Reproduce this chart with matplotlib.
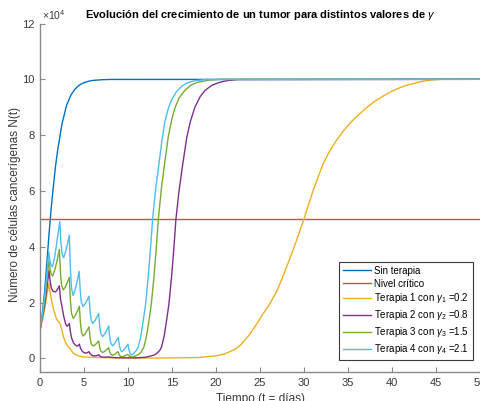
import matplotlib
matplotlib.use("Agg")
import matplotlib.pyplot as plt

plt.rcParams['font.family'] = ['Liberation Sans', 'DejaVu Sans']
plt.rcParams['mathtext.fontset'] = 'custom'
plt.rcParams['mathtext.rm'] = 'Liberation Sans'
plt.rcParams['mathtext.it'] = 'Liberation Sans:italic'

# ---- data (values in units of 1e4 cells) ----
t_sin = [0, 0.25, 0.5, 0.75, 1.0, 1.25, 1.5, 1.75, 2.0, 2.5, 3.0, 3.5, 4.0, 4.5, 5.0, 5.5, 6.0, 7.0, 8.0, 50]
n_sin = [1.0, 1.55, 2.3, 3.3, 4.35, 5.3, 6.1, 6.85, 7.45, 8.4, 9.05, 9.43, 9.66, 9.8, 9.88, 9.93, 9.96, 9.985, 9.995, 10.0]

t_crit = [0, 50]
n_crit = [5, 5]

t_t1 = [0, 0.5, 0.8, 1.02, 1.15, 1.33, 1.5, 1.7, 1.9, 2.1, 2.25, 2.45, 2.65, 2.85, 3.1, 3.3,
        3.45, 3.65, 3.85, 4.1, 4.5, 5.0, 5.6, 6.5, 8, 12, 15, 18, 19, 20, 21, 22.2, 22.8, 23.86,
        24.6, 25.38, 26.1, 26.9, 27.5, 28.03, 28.6, 29.17, 30.0, 30.5, 31.06, 31.6, 32.2, 32.9,
        33.7, 34.4, 35.2, 36.1, 37.1, 38.0, 39.0, 39.9, 40.9, 41.8, 42.8, 43.5, 44.3, 45.5, 50]
n_t1 = [1.0, 1.7, 2.3, 2.69, 2.35, 2.05, 1.8, 1.58, 1.4, 1.3, 1.27, 1.05, 0.8, 0.6, 0.45, 0.38,
        0.33, 0.24, 0.17, 0.12, 0.08, 0.05, 0.04, 0.03, 0.02, 0.01, 0.015, 0.03, 0.06, 0.09, 0.16, 0.33, 0.48, 0.87,
        1.22, 1.61, 1.95, 2.4, 2.85, 3.28, 3.75, 4.24, 5.0, 5.5, 6.03, 6.5, 6.99, 7.42,
        7.82, 8.12, 8.42, 8.7, 8.98, 9.2, 9.4, 9.56, 9.7, 9.8, 9.88, 9.93, 9.97, 10.0, 10.0]

t_t2 = [0, 0.5, 0.8, 1.02, 1.14, 1.3, 1.5, 1.75, 1.95, 2.2, 2.32, 2.5, 2.7, 2.9, 3.05, 3.2, 3.33,
        3.45, 3.6, 3.8, 4.0, 4.2, 4.35, 4.47, 4.59, 4.75, 4.95, 5.15, 5.35, 5.57,
        5.69, 5.85, 6.05, 6.3, 6.5, 6.67, 6.8, 7.0, 7.3, 7.8, 8.3, 9, 10, 11, 12, 13.0,
        13.35, 13.65, 13.82, 14.1, 14.39, 14.65, 14.95, 15.2, 15.45, 15.8, 16.17, 16.67,
        17.1, 17.6, 18.2, 18.75, 19.5, 20.3, 21.2, 22.5, 50]
n_t2 = [1.0, 1.85, 2.55, 3.16, 2.8, 2.5, 2.4, 2.38, 2.45, 2.6, 2.15, 1.85, 1.5, 1.25, 1.15, 1.18, 1.25,
        0.95, 0.72, 0.56, 0.48, 0.44, 0.46, 0.51, 0.38, 0.28, 0.21, 0.19, 0.2, 0.24,
        0.17, 0.12, 0.09, 0.09, 0.1, 0.13, 0.08, 0.05, 0.04, 0.05, 0.03, 0.02, 0.02, 0.02, 0.04, 0.12,
        0.2, 0.3, 0.42, 0.78, 1.37, 1.95, 2.92, 3.9, 5.0, 6.0, 6.85, 7.9,
        8.5, 9.0, 9.38, 9.6, 9.78, 9.88, 9.95, 9.99, 10.0]

t_t3 = [0, 0.5, 0.8, 1.02, 1.14, 1.27, 1.44, 1.7, 1.95, 2.2, 2.32, 2.45, 2.65, 2.88, 3.1, 3.33,
        3.45, 3.58, 3.79, 4.02, 4.25, 4.47, 4.59, 4.72, 4.92, 5.13, 5.35, 5.57,
        5.69, 5.82, 6.03, 6.25, 6.47, 6.67, 6.79, 6.92, 7.12, 7.35, 7.58, 7.8,
        7.92, 8.05, 8.26, 8.47, 8.68, 8.86, 8.98, 9.1, 9.3, 9.55, 9.78, 10.0,
        10.12, 10.45, 10.8, 11.1, 11.45, 11.8, 12.1, 12.39, 12.65, 12.95, 13.2, 13.45,
        13.8, 14.13, 14.58, 15.0, 15.34, 15.8, 16.5, 17.2, 18.0, 19.2, 20.5, 50]
n_t3 = [1.0, 2.0, 2.85, 3.52, 3.21, 3.02, 2.95, 3.19, 3.52, 3.9, 3.1, 2.62, 2.45, 2.56, 2.72, 2.9,
        2.09, 1.61, 1.43, 1.54, 1.69, 1.87, 1.28, 0.93, 0.8, 0.88, 1.0, 1.13,
        0.75, 0.52, 0.44, 0.485, 0.55, 0.62, 0.39, 0.26, 0.21, 0.25, 0.31, 0.38,
        0.23, 0.14, 0.11, 0.14, 0.19, 0.24, 0.14, 0.08, 0.06, 0.08, 0.11, 0.14,
        0.09, 0.05, 0.08, 0.12, 0.2, 0.4, 0.78, 1.37, 1.95, 2.92, 3.9, 5.0,
        6.1, 6.9, 7.95, 8.6, 8.98, 9.33, 9.62, 9.8, 9.9, 9.97, 10.0, 10.0]

t_t4 = [0, 0.5, 0.8, 1.0, 1.12, 1.25, 1.42, 1.7, 1.95, 2.25, 2.37, 2.5, 2.68, 2.9, 3.12, 3.33,
        3.45, 3.58, 3.77, 4.0, 4.23, 4.45, 4.57, 4.7, 4.9, 5.12, 5.35, 5.57,
        5.69, 5.82, 6.0, 6.22, 6.45, 6.67, 6.79, 6.92, 7.12, 7.35, 7.58, 7.8,
        7.92, 8.05, 8.26, 8.47, 8.68, 8.9, 9.02, 9.15, 9.3, 9.55, 9.78, 10.0,
        10.12, 10.25, 10.42, 10.7, 11.0, 11.17, 11.45, 11.74, 12.0, 12.3, 12.55, 12.8,
        13.15, 13.45, 13.83, 14.2, 14.6, 14.97, 15.5, 16.1, 16.8, 17.6, 18.8, 50]
n_t4 = [1.0, 2.1, 3.1, 3.82, 3.52, 3.35, 3.28, 3.69, 4.25, 4.9, 4.19, 3.76, 3.6, 3.81, 4.09, 4.42,
        3.23, 2.51, 2.25, 2.47, 2.77, 3.12, 2.43, 2.01, 1.86, 1.95, 2.08, 2.23,
        1.69, 1.37, 1.25, 1.34, 1.47, 1.61, 1.15, 0.88, 0.78, 0.875, 1.01, 1.16,
        0.77, 0.535, 0.45, 0.525, 0.63, 0.75, 0.47, 0.30, 0.24, 0.31, 0.40, 0.51,
        0.30, 0.17, 0.12, 0.2, 0.3, 0.42, 0.78, 1.37, 1.95, 2.92, 3.9, 5.0,
        6.1, 6.8, 7.75, 8.5, 8.98, 9.28, 9.55, 9.75, 9.88, 9.95, 9.99, 10.0]

labels = ['Sin terapia', 'Nivel crítico',
          r'Terapia 1 con $\gamma_1$ =0.2', r'Terapia 2 con $\gamma_2$ =0.8',
          r'Terapia 3 con $\gamma_3$ =1.5', r'Terapia 4 con $\gamma_4$ =2.1']
colors = ['#0072BD', '#D95319', '#EDB120', '#7E2F8E', '#77AC30', '#4DBEEE']
x_ticks = [0, 5, 10, 15, 20, 25, 30, 35, 40, 45, 50]
y_ticks = [0, 2, 4, 6, 8, 10, 12]

series = [(t_sin, n_sin), (t_crit, n_crit), (t_t1, n_t1), (t_t2, n_t2), (t_t3, n_t3), (t_t4, n_t4)]

W, H = 481, 401
fig = plt.figure(figsize=(W / 100, H / 100), dpi=100)
ax = fig.add_axes([40 / W, (H - 372.3) / H, 440 / W, 348.8 / H])

for (t, n), c, lab in zip(series, colors, labels):
    ax.plot(t, n, color=c, lw=1.0, label=lab)

ax.set_xlim(0, 50)
ax.set_ylim(-0.5, 12)
ax.set_xticks(x_ticks)
ax.set_yticks(y_ticks)
ax.set_xticklabels([str(v) for v in x_ticks])
ax.set_yticklabels([str(v) for v in y_ticks])

spine_c = '#8a8a8a'
text_c = '#3a3a3a'
for s in ['top', 'right']:
    ax.spines[s].set_visible(False)
for s in ['left', 'bottom']:
    ax.spines[s].set_color(spine_c)
    ax.spines[s].set_linewidth(1.0)
ax.tick_params(direction='in', length=3.5, width=0.8, color=spine_c, labelcolor=text_c,
               labelsize=8, pad=4)

ax.set_title(r'Evolución del crecimiento de un tumor para distintos valores de $\gamma$',
             fontsize=8, fontweight='bold', color='black', pad=4)
ax.set_xlabel('Tiempo (t = días)', fontsize=8.5, color=text_c)
ax.xaxis.set_label_coords(0.5, -0.058)
ax.set_ylabel('Número de células cancerígenas N(t)', fontsize=8.5, color=text_c)
ax.yaxis.set_label_coords(-0.043, 0.48)

ax.text(0.005, 1.005, r'×10$^4$', transform=ax.transAxes, fontsize=7.5, color=text_c,
        ha='left', va='bottom')

leg = ax.legend(loc='lower right', bbox_to_anchor=(0.984, 0.035), borderaxespad=0,
                fontsize=7.0, frameon=True, fancybox=False, framealpha=1,
                edgecolor='#3a3a3a', handlelength=2.9, handletextpad=0.3,
                labelspacing=0.3, borderpad=0.4)
leg.get_frame().set_linewidth(0.8)
for txt in leg.get_texts():
    txt.set_color('black')

fig.savefig('out.png', dpi=100)
